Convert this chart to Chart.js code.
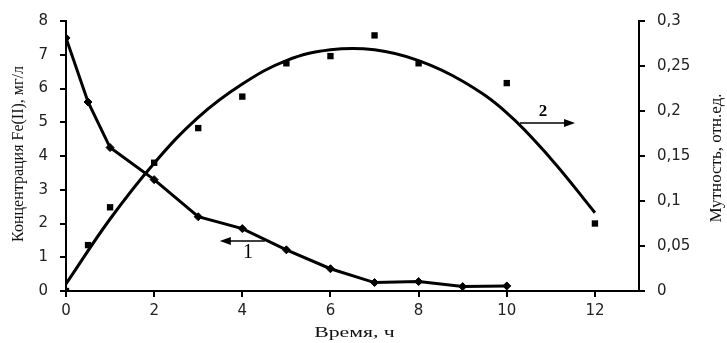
<!DOCTYPE html>
<html>
<head>
<meta charset="utf-8">
<script src="https://cdn.jsdelivr.net/npm/chart.js@4/dist/chart.umd.min.js"></script>
<style>
  html, body { margin: 0; padding: 0; background: #fff; }
  #wrap { width: 727px; height: 343px; position: relative; }
</style>
</head>
<body>
<div id="wrap"><canvas id="chart"></canvas></div>
<script>
// Curve 1: Fe(II) concentration, mg/l (left axis)
const feTime = [0, 0.5, 1, 2, 3, 4, 5, 6, 7, 8, 9, 10];
const feValues = [7.5, 5.6, 4.25, 3.3, 2.2, 1.85, 1.22, 0.66, 0.25, 0.28, 0.13, 0.15];

// Curve 2: turbidity, rel. units (right axis) - measured points
const turbTime = [0, 0.5, 1, 2, 3, 4, 5, 6, 7, 8, 10, 12];
const turbValues = [0, 0.051, 0.093, 0.1425, 0.181, 0.216, 0.253, 0.261, 0.284, 0.253, 0.231, 0.075];

// Curve 2: trend line
const trendTime = [0, 1, 2, 3, 4, 5, 6, 7, 8, 9, 10, 11, 12];
const trendValues = [0.008, 0.08, 0.142, 0.193, 0.23, 0.256, 0.268, 0.268, 0.256, 0.233, 0.198, 0.147, 0.087];

// Tick labels
const xTicks = [0, 2, 4, 6, 8, 10, 12];
const leftTicks = [0, 1, 2, 3, 4, 5, 6, 7, 8];
const rightTicks = [0, 0.05, 0.1, 0.15, 0.2, 0.25, 0.3];
const rightTickLabels = ['0', '0,05', '0,1', '0,15', '0,2', '0,25', '0,3'];

const serif = '"Liberation Serif", "DejaVu Serif", serif';
const sans = '"DejaVu Sans", Verdana, sans-serif';

const toPoints = (xs, ys) => xs.map((x, i) => ({ x: x, y: ys[i] }));

// arrows pointing to the axis each curve belongs to
const markers = [
    { label: '1', from: 4.51, to: 3.49, y: 1.48, lx: 4.13, ly: 1.12, font: '20px ' + serif },
    { label: '2', from: 10.3, to: 11.55, y: 4.98, lx: 10.82, ly: 5.33, font: 'bold 17px ' + serif }
];

const annotationPlugin = {
    id: 'annotations',
    afterDatasetsDraw(chart) {
        const ctx = chart.ctx;
        const xs = chart.scales.x;
        const ys = chart.scales.yLeft;
        const area = chart.chartArea;
        ctx.save();
        ctx.strokeStyle = '#000';
        ctx.fillStyle = '#000';
        markers.forEach(m => {
            const x1 = xs.getPixelForValue(m.from);
            const x2 = xs.getPixelForValue(m.to);
            const y = ys.getPixelForValue(m.y);
            const dir = Math.sign(x2 - x1);
            ctx.lineWidth = 1.5;
            ctx.beginPath();
            ctx.moveTo(x1, y);
            ctx.lineTo(x2 - dir * 8, y);
            ctx.stroke();
            ctx.beginPath();
            ctx.moveTo(x2, y);
            ctx.lineTo(x2 - dir * 11, y - 4);
            ctx.lineTo(x2 - dir * 11, y + 4);
            ctx.closePath();
            ctx.fill();
            ctx.font = m.font;
            ctx.textAlign = 'center';
            ctx.textBaseline = 'middle';
            ctx.fillText(m.label, xs.getPixelForValue(m.lx), ys.getPixelForValue(m.ly));
        });

        // axis titles
        ctx.fillStyle = '#111';
        ctx.textAlign = 'center';
        ctx.textBaseline = 'middle';
        const midY = (area.top + area.bottom) / 2;

        ctx.save();
        ctx.translate(19, midY - 2);
        ctx.rotate(-Math.PI / 2);
        ctx.font = '16px ' + serif;
        ctx.fillText('Концентрация Fe(II), мг/л', 0, 0);
        ctx.restore();

        ctx.save();
        ctx.translate(717, midY + 2);
        ctx.rotate(-Math.PI / 2);
        ctx.font = '17px ' + serif;
        ctx.fillText('Мутность, отн.ед.', 0, 0);
        ctx.restore();

        ctx.save();
        ctx.translate((area.left + area.right) / 2 + 2, 333);
        ctx.scale(1.45, 1);
        ctx.font = '15px ' + serif;
        ctx.fillText('Время, ч', 0, 0);
        ctx.restore();

        ctx.restore();
    }
};

new Chart(document.getElementById('chart'), {
    type: 'scatter',
    data: {
        datasets: [
            {
                label: 'Fe(II)',
                data: toPoints(feTime, feValues),
                yAxisID: 'yLeft',
                showLine: true,
                borderColor: '#000',
                backgroundColor: '#000',
                borderWidth: 3,
                pointStyle: 'rectRot',
                pointRadius: 4,
                pointBorderWidth: 1,
                tension: 0
            },
            {
                label: 'Мутность (тренд)',
                data: toPoints(trendTime, trendValues),
                yAxisID: 'yRight',
                showLine: true,
                borderColor: '#000',
                borderWidth: 3,
                pointRadius: 0,
                tension: 0.4
            },
            {
                label: 'Мутность',
                data: toPoints(turbTime, turbValues),
                yAxisID: 'yRight',
                showLine: false,
                borderColor: '#000',
                backgroundColor: '#000',
                pointStyle: 'rect',
                pointRadius: 4.5,
                pointBorderWidth: 0
            }
        ]
    },
    options: {
        responsive: true,
        maintainAspectRatio: false,
        animation: false,
        layout: { padding: { top: 21, right: 0, left: 0, bottom: 0 } },
        plugins: {
            legend: { display: false },
            tooltip: { enabled: false }
        },
        scales: {
            x: {
                type: 'linear',
                min: 0,
                max: 13,
                afterBuildTicks: scale => { scale.ticks = xTicks.map(v => ({ value: v })); },
                afterFit: scale => { scale.height = 52; },
                ticks: {
                    color: '#222',
                    font: { family: sans, size: 15 },
                    padding: 5,
                    maxRotation: 0
                },
                grid: { drawOnChartArea: false, tickLength: 6, color: '#000', lineWidth: 2 },
                border: { color: '#000', width: 2 }
            },
            yLeft: {
                type: 'linear',
                position: 'left',
                min: 0,
                max: 8,
                afterBuildTicks: scale => { scale.ticks = leftTicks.map(v => ({ value: v })); },
                afterFit: scale => { scale.width = 66; },
                ticks: {
                    color: '#222',
                    font: { family: sans, size: 15 },
                    padding: 12
                },
                grid: { drawOnChartArea: false, tickLength: 6, color: '#000', lineWidth: 2 },
                border: { color: '#000', width: 2 }
            },
            yRight: {
                type: 'linear',
                position: 'right',
                min: 0,
                max: 0.3,
                afterBuildTicks: scale => { scale.ticks = rightTicks.map(v => ({ value: v })); },
                afterFit: scale => { scale.width = 88; },
                ticks: {
                    color: '#222',
                    font: { family: sans, size: 15 },
                    padding: 12,
                    callback: (value, index) => rightTickLabels[index]
                },
                grid: { drawOnChartArea: false, tickLength: 6, color: '#000', lineWidth: 2 },
                border: { color: '#000', width: 2 }
            }
        }
    },
    plugins: [annotationPlugin]
});
</script>
</body>
</html>
